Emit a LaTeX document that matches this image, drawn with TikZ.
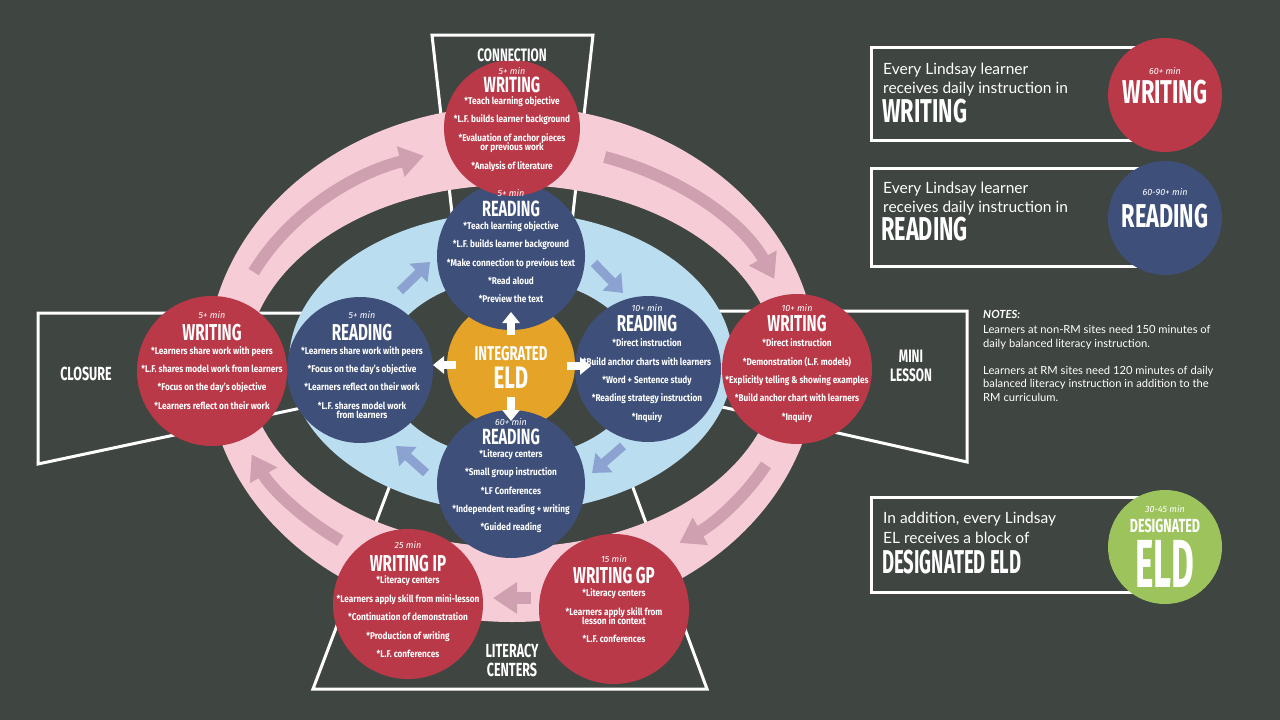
\documentclass[tikz,border=0pt]{standalone}
\usepackage{fontspec}
\setmainfont{Lato}
\newfontfamily\titlef{Fira Sans}[FakeStretch=0.66]
\newfontfamily\bulf{Fira Sans}[FakeStretch=0.84]
\newfontfamily\minf{Fira Sans}
\usetikzlibrary{arrows.meta}
\definecolor{bgc}{RGB}{63,69,65}
\definecolor{redc}{RGB}{186,57,72}
\definecolor{bluec}{RGB}{62,80,122}
\definecolor{goldc}{RGB}{229,164,40}
\definecolor{pinkc}{RGB}{246,205,215}
\definecolor{lbluec}{RGB}{187,221,240}
\definecolor{greenc}{RGB}{157,196,92}
\definecolor{mauvec}{RGB}{207,160,176}
\definecolor{arrowblue}{RGB}{140,163,210}
\newcommand{\TF}[1]{\titlef\bfseries\fontsize{#1}{#1}\selectfont}
\tikzset{
 circ/.style={circle, inner sep=0pt, minimum size=#1},
 tt/.style={text=white, anchor=base, inner sep=0pt},
 bl/.style={tt, font=\bulf\bfseries\fontsize{9.8}{10}\selectfont},
 mn/.style={tt, font=\minf\itshape\fontsize{9}{9}\selectfont},
 trap/.style={draw=white, line width=3pt, line join=miter},
 ringarrow/.style={draw=mauvec, line width=12pt, -{Triangle[width=30pt,length=24pt]}},
 blarrow/.style={draw=arrowblue, line width=9pt, -{Triangle[width=25pt,length=16pt]}},
 wharrow/.style={draw=white, line width=8pt, -{Triangle[width=17pt,length=11pt]}},
 pl/.style={text=white, anchor=base west, inner sep=0pt, font=\fontsize{15.5}{16}\selectfont},
 nt/.style={text=white, anchor=base west, inner sep=0pt, font=\fontsize{11.2}{12}\selectfont},
 panelbox/.style={draw=white, line width=3pt},
}
\begin{document}
\begin{tikzpicture}[x=1pt,y=-1pt]
\useasboundingbox (0,0) rectangle (1280,720);
\fill[bgc] (0,0) rectangle (1280,720);
% stage frames
\draw[trap] (455,240) -- (432,35) -- (593,35) -- (570,240);
\draw[trap] (335,313) -- (38,313) -- (38,464) -- (320,404);
\draw[trap] (690,311) -- (967,311) -- (967,462) -- (700,402);
\draw[trap] (390,485) -- (313,689) -- (707,689) -- (632,485);
% rings
\fill[pinkc, even odd rule] (512,364) ellipse [x radius=305, y radius=258] (512,366) ellipse [x radius=265, y radius=181];
\fill[lbluec] (511,362) ellipse [x radius=222, y radius=150];
\fill[bgc] (512,368) ellipse [x radius=128, y radius=90];
% ring arrows
\coordinate (ringc) at (512,365);
\draw[ringarrow] ([shift={(ringc)}]205:285 and 220) arc[start angle=205, end angle=252, x radius=285, y radius=220];
\draw[ringarrow] ([shift={(ringc)}]289:285 and 220) arc[start angle=289, end angle=337, x radius=285, y radius=220];
\draw[ringarrow] ([shift={(ringc)}]27:285 and 220) arc[start angle=27, end angle=54, x radius=285, y radius=220];
\draw[ringarrow] ([shift={(ringc)}]127:285 and 220) arc[start angle=127, end angle=156, x radius=285, y radius=220];
\coordinate (ba1) at (531,598); \coordinate (ba2) at (493,598);
\draw[ringarrow] (ba1) -- (ba2);
% blue arrows
\coordinate (b1s) at (400,291); \coordinate (b1e) at (430,262);
\coordinate (b2s) at (594,263); \coordinate (b2e) at (623,293);
\coordinate (b3s) at (623,446); \coordinate (b3e) at (592,473);
\coordinate (b4s) at (426,473); \coordinate (b4e) at (396,446);
\draw[blarrow] (b1s) -- (b1e);
\draw[blarrow] (b2s) -- (b2e);
\draw[blarrow] (b3s) -- (b3e);
\draw[blarrow] (b4s) -- (b4e);
% circles
\node[circ=128pt, fill=goldc] (gold) at (511,365) {};
\node[circ=148pt, fill=bluec] (rtop) at (511,256) {};
\node[circ=146pt, fill=bluec] (rleft) at (360,370) {};
\node[circ=146pt, fill=bluec] (rright) at (648,369) {};
\node[circ=148pt, fill=bluec] (rbot) at (511,484) {};
\node[circ=136pt, fill=redc] (wtop) at (512,128) {};
\node[circ=150pt, fill=redc] (wleft) at (212,371) {};
\node[circ=150pt, fill=redc] (wright) at (797,369) {};
\node[circ=150pt, fill=redc] (wip) at (408,604) {};
\node[circ=150pt, fill=redc] (wgp) at (614,609) {};
% white arrows
\coordinate (u1) at (511,335); \coordinate (u2) at (511,312);
\coordinate (l1) at (456,365); \coordinate (l2) at (433,365);
\coordinate (r1) at (567,366); \coordinate (r2) at (591,366);
\coordinate (d1) at (511,397); \coordinate (d2) at (511,421);
\draw[wharrow] (u1) -- (u2);
\draw[wharrow] (l1) -- (l2);
\draw[wharrow] (r1) -- (r2);
\draw[wharrow] (d1) -- (d2);
% frame labels
\node[tt, font=\TF{18}] (lcon) at (512,61.7) {CONNECTION};
\node[tt, font=\TF{19}] (lclo) at (86,380) {CLOSURE};
\node[tt, font=\TF{18}] (lmini1) at (911,362.7) {MINI};
\node[tt, font=\TF{18}] (lmini2) at (911,381.7) {LESSON};
\node[tt, font=\TF{19}] (llit1) at (512,657.7) {LITERACY};
\node[tt, font=\TF{19}] (llit2) at (512,676.7) {CENTERS};
% center
\node[tt, font=\TF{20}] (ie1) at (511,360) {INTEGRATED};
\node[tt, font=\TF{31}] (ie2) at (511,388) {ELD};
% top writing
\node[mn] (wt0) at (512,74.5) {5+ min};
\node[tt, font=\TF{22}] (wth) at (512,92) {WRITING};
\node[bl] (wt1) at (512,104) {*Teach learning objective};
\node[bl] (wt2) at (512,122.7) {*L.F. builds learner background};
\node[bl] (wt3) at (512,141.7) {*Evaluation of anchor pieces};
\node[bl] (wt4) at (512,150.7) {or previous work};
\node[bl] (wt5) at (512,169.3) {*Analysis of literature};
% top reading
\node[mn] (rt0) at (511,196) {5+ min};
\node[tt, font=\TF{22}] (rth) at (511,216) {READING};
\node[bl] (rt1) at (511,229.3) {*Teach learning objective};
\node[bl] (rt2) at (511,247.3) {*L.F. builds learner background};
\node[bl] (rt3) at (511,266) {*Make connection to previous text};
\node[bl] (rt4) at (511,284.3) {*Read aloud};
\node[bl] (rt5) at (511,302.7) {*Preview the text};
% left writing
\node[mn] (wl0) at (212,318.5) {5+ min};
\node[tt, font=\TF{23}] (wlh) at (212,340) {WRITING};
\node[bl] (wl1) at (212,354) {*Learners share work with peers};
\node[bl] (wl2) at (212,372) {*L.F. shares model work from learners};
\node[bl] (wl3) at (212,390.7) {*Focus on the day’s objective};
\node[bl] (wl4) at (212,409) {*Learners reflect on their work};
% left reading
\node[mn] (rl0) at (362,318.5) {5+ min};
\node[tt, font=\TF{23}] (rlh) at (362,340) {READING};
\node[bl] (rl1) at (362,354) {*Learners share work with peers};
\node[bl] (rl2) at (362,372) {*Focus on the day’s objective};
\node[bl] (rl3) at (362,390.7) {*Learners reflect on their work};
\node[bl] (rl4) at (362,409) {*L.F. shares model work};
\node[bl] (rl5) at (362,418.3) {from learners};
% right reading
\node[mn] (rr0) at (647,311) {10+ min};
\node[tt, font=\TF{23}] (rrh) at (647,331.7) {READING};
\node[bl] (rr1) at (647,346) {*Direct instruction};
\node[bl] (rr2) at (647,365) {*Build anchor charts with learners};
\node[bl] (rr3) at (647,383.3) {*Word + Sentence study};
\node[bl] (rr4) at (647,401.7) {*Reading strategy instruction};
\node[bl] (rr5) at (647,420) {*Inquiry};
% right writing
\node[mn] (wr0) at (797,311) {10+ min};
\node[tt, font=\TF{23}] (wrh) at (797,331.7) {WRITING};
\node[bl] (wr1) at (797,346) {*Direct instruction};
\node[bl] (wr2) at (797,365) {*Demonstration (L.F. models)};
\node[bl] (wr3) at (797,383.3) {*Explicitly telling \& showing examples};
\node[bl] (wr4) at (797,401.7) {*Build anchor chart with learners};
\node[bl] (wr5) at (797,420) {*Inquiry};
% bottom reading
\node[mn] (rb0) at (511,425) {60+ min};
\node[tt, font=\TF{22}] (rbh) at (511,444) {READING};
\node[bl] (rb1) at (511,457.3) {*Literacy centers};
\node[bl] (rb2) at (511,475.7) {*Small group instruction};
\node[bl] (rb3) at (511,494) {*LF Conferences};
\node[bl] (rb4) at (511,512.3) {*Independent reading + writing};
\node[bl] (rb5) at (511,530.7) {*Guided reading};
% writing IP
\node[mn] (ip0) at (408,548.5) {25 min};
\node[tt, font=\TF{23}] (iph) at (408,571.7) {WRITING IP};
\node[bl] (ip1) at (408,583.3) {*Literacy centers};
\node[bl] (ip2) at (408,602.3) {*Learners apply skill from mini-lesson};
\node[bl] (ip3) at (408,620.7) {*Continuation of demonstration};
\node[bl] (ip4) at (408,639.3) {*Production of writing};
\node[bl] (ip5) at (408,657.7) {*L.F. conferences};
% writing GP
\node[mn] (gp0) at (614,562) {15 min};
\node[tt, font=\TF{23}] (gph) at (614,583) {WRITING GP};
\node[bl] (gp1) at (614,596.7) {*Literacy centers};
\node[bl] (gp2) at (614,615) {*Learners apply skill from};
\node[bl] (gp3) at (614,624.3) {lesson in context};
\node[bl] (gp4) at (614,642.7) {*L.F. conferences};
% right panel
\draw[panelbox] (871,47) rectangle (1140,140);
\draw[panelbox] (871,168) rectangle (1140,266);
\draw[panelbox] (871,497) rectangle (1140,592);
\node[circ=114pt, fill=redc] (pw) at (1165,95) {};
\node[circ=114pt, fill=bluec] (pr) at (1165,218) {};
\node[circ=114pt, fill=greenc] (pe) at (1165,547) {};
\node[pl] (p11) at (883,74) {Every Lindsay learner};
\node[pl] (p12) at (883,93) {receives daily instruction in};
\node[tt, anchor=base west, font=\TF{33}] (p13) at (882,122) {WRITING};
\node[pl] (p21) at (883,193) {Every Lindsay learner};
\node[pl] (p22) at (883,212) {receives daily instruction in};
\node[tt, anchor=base west, font=\TF{33}] (p23) at (881,240) {READING};
\node[pl] (p31) at (883,523) {In addition, every Lindsay};
\node[pl] (p32) at (883,543) {EL receives a block of};
\node[tt, anchor=base west, font=\TF{33}] (p33) at (882,573) {\scalebox{0.85}[1]{DESIGNATED ELD}};
\node[mn] (pw0) at (1165,74.5) {60+ min};
\node[tt, font=\TF{33}] (pwh) at (1165,103) {WRITING};
\node[mn] (pr0) at (1165,195.5) {60-90+ min};
\node[tt, font=\TF{33}] (prh) at (1165,227) {READING};
\node[mn] (pe0) at (1165,512.5) {30-45 min};
\node[tt, font=\TF{19}] (peh) at (1165,532) {DESIGNATED};
\node[tt, font=\TF{68}] (pe2) at (1165,587) {\scalebox{0.78}[1]{ELD}};
% notes
\node[nt, font=\bfseries\itshape\fontsize{11.2}{12}\selectfont] (n0) at (983,318) {NOTES:};
\node[nt] (n1) at (983,333) {Learners at non-RM sites need 150 minutes of};
\node[nt] (n2) at (983,347) {daily balanced literacy instruction.};
\node[nt] (n3) at (983,374) {Learners at RM sites need 120 minutes of daily};
\node[nt] (n4) at (983,387.5) {balanced literacy instruction in addition to the};
\node[nt] (n5) at (983,401) {RM curriculum.};
\end{tikzpicture}
\end{document}
